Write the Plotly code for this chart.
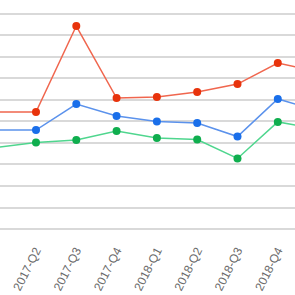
import plotly.graph_objects as go

quarters = ["2017-Q1", "2017-Q2", "2017-Q3", "2017-Q4", "2018-Q1",
            "2018-Q2", "2018-Q3", "2018-Q4", "2019-Q1"]
series_red = [5.44, 5.44, 9.44, 6.09, 6.14, 6.37, 6.74, 7.72, 7.30]
series_blue = [4.60, 4.60, 5.81, 5.26, 5.00, 4.93, 4.30, 6.05, 5.49]
series_green = [3.79, 4.02, 4.14, 4.56, 4.23, 4.16, 3.28, 4.98, 4.65]

styles = [
    (series_red, "#F0664E", "#E8330C"),
    (series_blue, "#5B92EC", "#1A6FEA"),
    (series_green, "#4FD68E", "#0FAE4E"),
]

fig = go.Figure()
for vals, lc, mc in styles:
    fig.add_trace(go.Scatter(
        x=list(range(len(quarters))), y=vals, mode="lines+markers",
        line=dict(color=lc, width=1.5),
        marker=dict(color=mc, size=8),
        showlegend=False,
    ))

fig.update_layout(
    width=295, height=295,
    margin=dict(l=0, r=0, t=0, b=66, pad=0),
    plot_bgcolor="white", paper_bgcolor="white",
    font=dict(family="Liberation Sans", size=12, color="#6A6A6A"),
)
fig.update_xaxes(
    range=[0.107, 7.427],
    tickmode="array", tickvals=list(range(len(quarters))), ticktext=quarters,
    tickangle=-63, showgrid=False, zeroline=False,
    ticks="outside", ticklen=9, tickcolor="rgba(0,0,0,0)",
    showline=False,
)
fig.update_yaxes(
    range=[0, 10.65], dtick=1, showticklabels=False,
    showgrid=True, gridcolor="#D9D9D9", gridwidth=1.5,
    zeroline=True, zerolinecolor="#D9D9D9", zerolinewidth=1.5,
)
fig.write_html("out.html")
